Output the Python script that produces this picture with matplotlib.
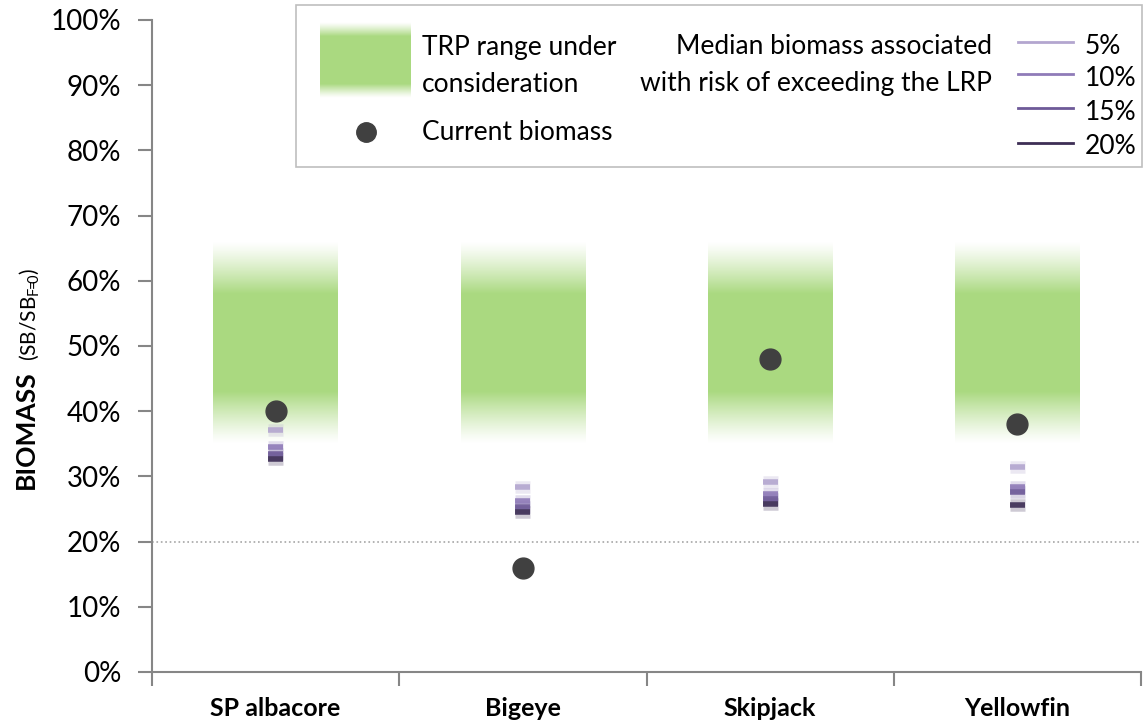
import numpy as np
import matplotlib
matplotlib.use("Agg")
import matplotlib.pyplot as plt
from matplotlib.patches import Rectangle

plt.rcParams['font.family'] = ['Lato', 'DejaVu Sans']

# data
species = ['SP albacore', 'Bigeye', 'Skipjack', 'Yellowfin']
current = [40, 16, 48, 38]
risk_levels = ['5%', '10%', '15%', '20%']
risk_5 = [37.1, 28.4, 29.2, 31.4]
risk_10 = [34.5, 26.2, 27.3, 28.4]
risk_15 = [33.5, 25.3, 26.6, 27.6]
risk_20 = [32.6, 24.6, 25.8, 25.6]
trp_core = (43, 58)     # solid part of the target range
trp_fade = (35, 66)     # where the shading fades out
lrp = 20
yticks = list(range(0, 101, 10))

green = (0.667, 0.851, 0.502)
purples = ['#b3a6cf', '#8f7bb8', '#6e5a98', '#3d2e55']
dark = '#404040'
axcol = '#868686'

W, H = 1143, 724
fig = plt.figure(figsize=(W / 100, H / 100), dpi=100)
ax = fig.add_axes([152 / W, 1 - 672 / H, (1141 - 152) / W, (672 - 20) / H])


def band_image(lo, hi, core_lo, core_hi, n=200):
    y = np.linspace(lo, hi, n)
    a = np.ones(n)
    a[y < core_lo] = (y[y < core_lo] - lo) / (core_lo - lo)
    a[y > core_hi] = (hi - y[y > core_hi]) / (hi - core_hi)
    a = np.clip(a, 0, 1) ** 1.2
    img = np.zeros((n, 1, 4))
    img[:, 0, :3] = green
    img[:, 0, 3] = a
    return img


img = band_image(trp_fade[0], trp_fade[1], trp_core[0], trp_core[1])
for i in range(len(species)):
    ax.imshow(img, origin='lower', aspect='auto', interpolation='bilinear',
              extent=[i - 0.252, i + 0.252, trp_fade[0], trp_fade[1]], zorder=1)

# risk marks
x = np.arange(len(species))
for vals, c in zip([risk_5, risk_10, risk_15, risk_20], purples):
    ax.hlines(vals, x - 0.03, x + 0.03, color=c, lw=9, alpha=0.25, zorder=2)
    ax.hlines(vals, x - 0.03, x + 0.03, color=c, lw=4, alpha=0.9, zorder=3)

ax.axhline(lrp, color='#a6a6a6', ls=':', lw=1.2, zorder=0)
ax.plot(x, current, 'o', color=dark, ms=15, zorder=4)

ax.set_xlim(-0.5, 3.5)
ax.set_ylim(0, 100)
ax.set_yticks(yticks)
ax.set_yticklabels([f'{v}%' for v in yticks], fontsize=20)
ax.set_xticks(x)
ax.set_xticklabels(species, fontsize=18, fontweight='bold')
ax.set_xticks(np.arange(-0.5, 4, 1), minor=True)
ax.tick_params(axis='x', which='major', length=0, pad=18)
ax.tick_params(axis='x', which='minor', length=10, width=1.5, color=axcol)
ax.tick_params(axis='y', length=10, width=1.5, color=axcol, pad=12)
for s in ['top', 'right']:
    ax.spines[s].set_visible(False)
for s in ['left', 'bottom']:
    ax.spines[s].set_color(axcol)
    ax.spines[s].set_linewidth(1.5)

# y label
fig.text(26 / W, 1 - 430 / H, 'BIOMASS', rotation=90, ha='center', va='center',
         fontsize=19, fontweight='bold')
fig.text(30 / W, 1 - 314 / H, r'(SB/SB$_\mathregular{F\!\!=\!\!0}$)', rotation=90,
         ha='center', va='center', fontsize=15)

# legend box
fig.patches.append(Rectangle((296 / W, 1 - 167 / H), (1142 - 296) / W, 162 / H,
                             transform=fig.transFigure, fill=False,
                             ec='#bfbfbf', lw=1.2))
lax = fig.add_axes([320 / W, 1 - 98 / H, 90 / W, 76 / H])
lax.imshow(band_image(0, 76, 14, 62), origin='lower', aspect='auto',
           interpolation='bilinear', extent=[0, 1, 0, 76])
lax.axis('off')

fs = 19
fig.text(422 / W, 1 - 48 / H, 'TRP range under', fontsize=fs, va='center')
fig.text(422 / W, 1 - 84 / H, 'consideration', fontsize=fs, va='center')
fig.text(422 / W, 1 - 133 / H, 'Current biomass', fontsize=fs, va='center')
fig.lines.append(plt.Line2D([366 / W], [1 - 132 / H], marker='o', ms=14,
                            color=dark, transform=fig.transFigure))
fig.text(992 / W, 1 - 47 / H, 'Median biomass associated', fontsize=fs,
         va='center', ha='right')
fig.text(992 / W, 1 - 83 / H, 'with risk of exceeding the LRP', fontsize=fs,
         va='center', ha='right')

for ly, lab, c in zip([42, 74, 108, 143], risk_levels, purples):
    fig.lines.append(plt.Line2D([1018 / W, 1073 / W], [1 - ly / H] * 2,
                                color=c, lw=2, transform=fig.transFigure))
    fig.text(1085 / W, 1 - (ly + 4) / H, lab, fontsize=fs, va='center')

fig.savefig('out.png', dpi=100)
